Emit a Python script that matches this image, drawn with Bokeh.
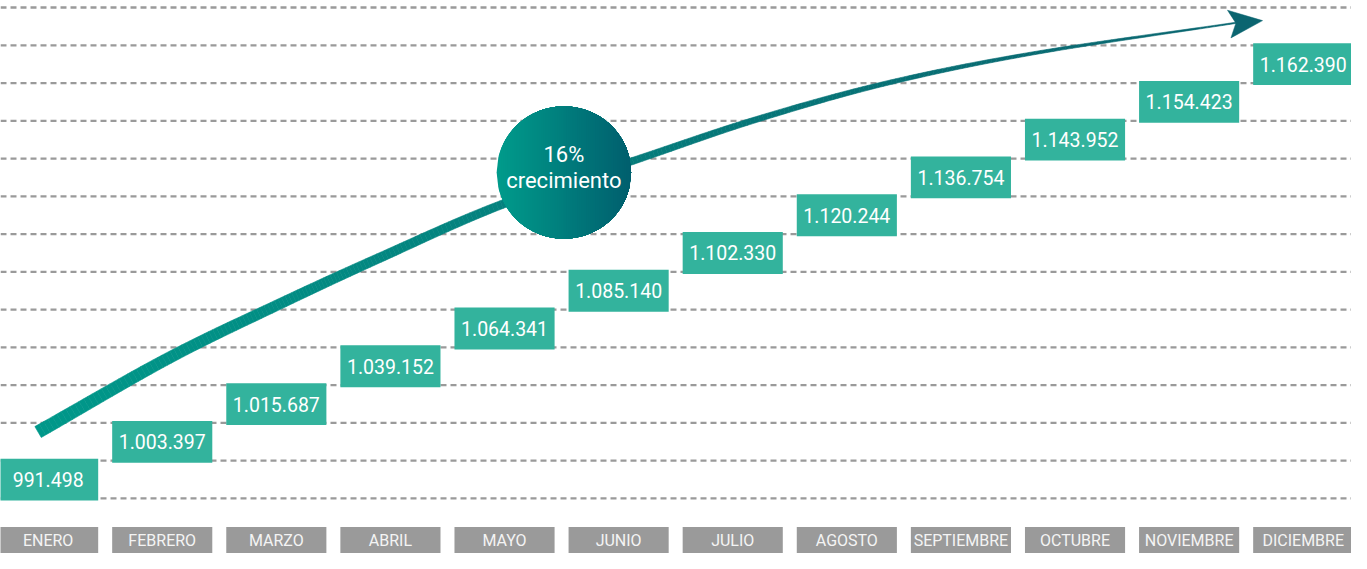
import numpy as np
from bokeh.plotting import figure
from bokeh.models import ColumnDataSource, Range1d
from bokeh.core.properties import value
from bokeh.embed import file_html
from bokeh.resources import INLINE

# ---------------- data ----------------
months = ["ENERO", "FEBRERO", "MARZO", "ABRIL", "MAYO", "JUNIO", "JULIO",
          "AGOSTO", "SEPTIEMBRE", "OCTUBRE", "NOVIEMBRE", "DICIEMBRE"]
values = [991498, 1003397, 1015687, 1039152, 1064341, 1085140, 1102330,
          1120244, 1136754, 1143952, 1154423, 1162390]
growth_pct = "16%"
growth_word = "crecimiento"

# decorative trend arrow path (reference pixel space of the original picture)
trend_path_px = [(38, 444), (170, 368), (283, 312), (383, 265), (507, 210),
                 (640, 165), (763, 123), (897, 85), (1047, 54), (1250, 23)]
arrow_head_px = [(1277, 20.7), (1241.5, 10), (1250, 23.3), (1245, 38.5)]

FONT = "Roboto"

# ---------------- layout helpers ----------------
PX0, PXS = 48.2, 115.45     # pixel x of month 0 centre, pixels per month
PY0, PYS = 492.9, 38.85     # pixel y of step 0 centre, pixels per step


def dx(px):
    return (np.asarray(px, float) - PX0) / PXS


def dy(py):
    return (PY0 - np.asarray(py, float)) / PYS


def fmt(v):
    return f"{v:,}".replace(",", ".")


n = len(months)
idx = list(range(n))
labels = [fmt(v) for v in values]

p = figure(width=1351, height=553,
           x_range=Range1d(float(dx(0)), float(dx(1367))),
           y_range=Range1d(float(dy(569)), float(dy(0))),
           output_backend="svg", toolbar_location=None, min_border=0)
p.axis.visible = False
p.grid.visible = False
p.outline_line_color = None
p.background_fill_color = "white"
p.border_fill_color = "white"

xmin, xmax = float(dx(0)), float(dx(1367))

# dashed horizontal guide lines between steps
gy = [i - 0.5 for i in range(0, n + 2)]
p.segment(x0=[xmin] * len(gy), y0=gy, x1=[xmax] * len(gy), y1=gy,
          line_color="#9a9a9a", line_width=2.4, line_dash="6 4")

# ---------------- tapered trend arrow ----------------
def catmull(pts, k=30):
    pts = np.array(pts, float)
    P = np.vstack([2 * pts[0] - pts[1], pts, 2 * pts[-1] - pts[-2]])
    out = []
    for i in range(1, len(P) - 2):
        p0, p1, p2, p3 = P[i - 1], P[i], P[i + 1], P[i + 2]
        t = np.linspace(0, 1, k, endpoint=False)[:, None]
        out.append(0.5 * ((2 * p1) + (-p0 + p2) * t +
                          (2 * p0 - 5 * p1 + 4 * p2 - p3) * t ** 2 +
                          (-p0 + 3 * p1 - 3 * p2 + p3) * t ** 3))
    out.append(P[-2][None, :])
    return np.vstack(out)


c = catmull(trend_path_px)
tx, ty = np.gradient(c[:, 0]), np.gradient(c[:, 1])
nl = np.hypot(tx, ty)
nx, ny = -ty / nl, tx / nl
x_start, x_end = c[0, 0], c[-1, 0]
w = 13.0 - 11.8 * (c[:, 0] - x_start) / (x_end - x_start)
L = c + np.column_stack([nx, ny]) * (w / 2)[:, None]
R = c - np.column_stack([nx, ny]) * (w / 2)[:, None]

col0 = np.array([0, 152, 138])
col1 = np.array([10, 102, 112])
xs, ys, cols = [], [], []
m = len(c)
for i in range(m - 1):
    f = i / (m - 2)
    rgb = (col0 * (1 - f) + col1 * f).astype(int)
    cols.append("#%02x%02x%02x" % tuple(rgb))
    qx = [L[i, 0], L[i + 1, 0], R[i + 1, 0], R[i, 0]]
    qy = [L[i, 1], L[i + 1, 1], R[i + 1, 1], R[i, 1]]
    xs.append(list(dx(qx)))
    ys.append(list(dy(qy)))
p.patches(xs="xs", ys="ys", fill_color="cols", line_color="cols", line_width=0.6,
          source=ColumnDataSource(dict(xs=xs, ys=ys, cols=cols)))

ah = np.array(arrow_head_px)
p.patch(x=list(dx(ah[:, 0])), y=list(dy(ah[:, 1])),
        fill_color="#0b6570", line_color="#0b6570", line_width=0.5)

# ---------------- growth bubble (horizontal gradient) ----------------
cx, cy = float(dx(570)), float(dy(177))
rx, ry = 68 / PXS, 68 / PYS
NS = 60
g0 = np.array([0, 156, 140])
g1 = np.array([0, 95, 110])
bxs, bys, bcols = [], [], []
for k in range(NS):
    a0 = -1 + 2 * k / NS
    u = np.linspace(a0, 1, max(4, int(80 * (1 - a0) / 2) + 2))
    h = np.sqrt(np.clip(1 - u ** 2, 0, 1))
    px_ = np.concatenate([u, u[::-1]])
    py_ = np.concatenate([h, -h[::-1]])
    bxs.append(list(cx + rx * px_))
    bys.append(list(cy + ry * py_))
    f = (k + 0.5) / NS
    rgb = (g0 * (1 - f) + g1 * f).astype(int)
    bcols.append("#%02x%02x%02x" % tuple(rgb))
p.patches(xs="xs", ys="ys", fill_color="cols", line_color=None,
          source=ColumnDataSource(dict(xs=bxs, ys=bys, cols=bcols)))

p.text(x=[cx, cx], y=[float(dy(158.5)), float(dy(185.5))],
       text=[growth_pct, growth_word], text_align="center",
       text_baseline="middle", text_font=value(FONT),
       text_font_size="22px", text_color="white")

# ---------------- value boxes ----------------
bw = 101.3 / PXS
bh = 43.0 / PYS
src = ColumnDataSource(dict(x=idx, y=idx, label=labels, month=months))
p.rect(x="x", y="y", width=bw, height=bh, fill_color="#33b39d",
       line_color=None, source=src)
p.text(x="x", y="y", text="label", text_align="center", text_baseline="middle",
       text_font=value(FONT), text_font_size="19.5px", text_color="white",
       source=src)

# ---------------- month labels ----------------
my = float(dy(555.4))
mh = 27.3 / PYS
msrc = ColumnDataSource(dict(x=idx, y=[my] * n, month=months))
p.rect(x="x", y="y", width=bw, height=mh, fill_color="#9a9a9a",
       line_color=None, source=msrc)
p.text(x="x", y="y", text="month", text_align="center", text_baseline="middle",
       text_font=value(FONT), text_font_size="16px", text_color="#f4f4f4",
       source=msrc)

open("out.html", "w").write(file_html(p, INLINE))
